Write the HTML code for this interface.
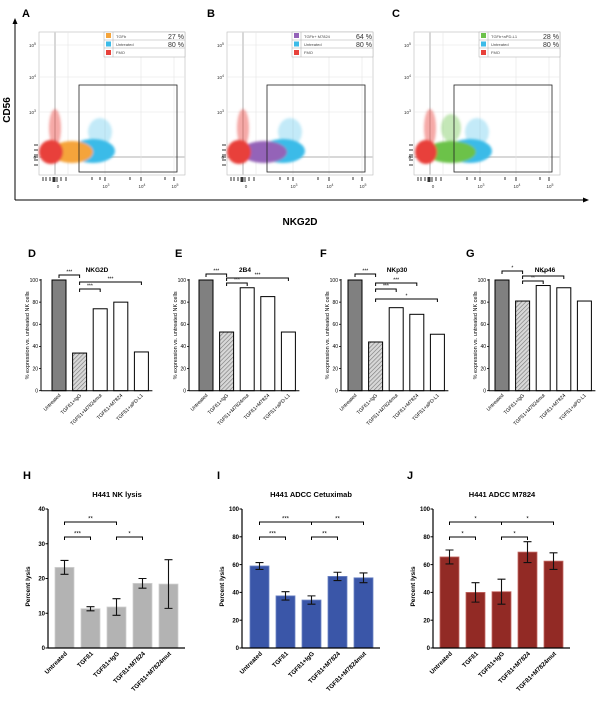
<!DOCTYPE html>
<html><head><meta charset="utf-8"><style>
html,body{margin:0;padding:0;background:#fff}
svg{display:block;font-family:"Liberation Sans",Arial,sans-serif}
</style></head><body>
<svg id="fig" width="600" height="709" viewBox="0 0 600 709" xmlns="http://www.w3.org/2000/svg">
<defs>
<filter id="blur" x="-50%" y="-50%" width="200%" height="200%"><feGaussianBlur stdDeviation="1.3"/></filter>
<pattern id="hatch" width="3" height="3" patternUnits="userSpaceOnUse" patternTransform="rotate(45)"><rect width="3" height="3" fill="#d8d8d8"/><line x1="0" y1="0" x2="0" y2="3" stroke="#777" stroke-width="1.2"/></pattern>
<g id="flowbase">
<rect x="39" y="32" width="146" height="143" fill="#fff" stroke="#bbb" stroke-width="0.6"/>
<line x1="39" y1="45" x2="185" y2="45" stroke="#e4e4e4" stroke-width="0.6"/>
<line x1="39" y1="77" x2="185" y2="77" stroke="#e4e4e4" stroke-width="0.6"/>
<line x1="39" y1="112" x2="185" y2="112" stroke="#e4e4e4" stroke-width="0.6"/>
<line x1="39" y1="157" x2="185" y2="157" stroke="#d8d8d8" stroke-width="2"/>
<line x1="55" y1="32" x2="55" y2="175" stroke="#d8d8d8" stroke-width="2"/>
<line x1="68" y1="32" x2="68" y2="175" stroke="#e4e4e4" stroke-width="0.6"/>
<line x1="105" y1="32" x2="105" y2="175" stroke="#e4e4e4" stroke-width="0.6"/>
<line x1="141" y1="32" x2="141" y2="175" stroke="#e4e4e4" stroke-width="0.6"/>
<line x1="174" y1="32" x2="174" y2="175" stroke="#e4e4e4" stroke-width="0.6"/>
<g font-size="4.5" fill="#333" text-anchor="end">
<text x="36" y="47">10<tspan dy="-2" font-size="3.5">5</tspan></text>
<text x="36" y="79">10<tspan dy="-2" font-size="3.5">4</tspan></text>
<text x="36" y="114">10<tspan dy="-2" font-size="3.5">3</tspan></text>
<text x="36" y="159">0</text>
</g>
<g font-size="4.5" fill="#333" text-anchor="middle">
<text x="58" y="188">0</text><text x="106" y="188">10<tspan dy="-2" font-size="3.5">3</tspan></text>
<text x="142" y="188">10<tspan dy="-2" font-size="3.5">4</tspan></text><text x="175" y="188">10<tspan dy="-2" font-size="3.5">5</tspan></text>
</g>
<g stroke="#000" stroke-width="0.8">
<line x1="43" y1="177" x2="43" y2="181"/><line x1="46" y1="177" x2="46" y2="181"/><line x1="50" y1="177" x2="50" y2="181"/><line x1="53" y1="177" x2="53" y2="182"/><line x1="54" y1="177" x2="54" y2="182"/><line x1="55" y1="177" x2="55" y2="182"/><line x1="57" y1="177" x2="57" y2="182"/><line x1="61" y1="177" x2="61" y2="181"/><line x1="66" y1="177" x2="66" y2="181"/><line x1="92" y1="177" x2="92" y2="180"/><line x1="100" y1="177" x2="100" y2="180"/><line x1="105" y1="177" x2="105" y2="181"/><line x1="130" y1="177" x2="130" y2="180"/><line x1="141" y1="177" x2="141" y2="181"/><line x1="165" y1="177" x2="165" y2="180"/><line x1="174" y1="177" x2="174" y2="181"/>
<line x1="34" y1="145" x2="38" y2="145"/><line x1="34" y1="150" x2="38" y2="150"/><line x1="34" y1="155" x2="38" y2="155"/><line x1="34" y1="157" x2="38" y2="157"/><line x1="34" y1="160" x2="38" y2="160"/><line x1="34" y1="165" x2="38" y2="165"/>
</g>
</g>
</defs>

<g>
<text x="22" y="17" font-size="11" font-weight="bold">A</text>
<text x="207" y="17" font-size="11" font-weight="bold">B</text>
<text x="392" y="17" font-size="11" font-weight="bold">C</text>
<line x1="15" y1="200" x2="15" y2="22" stroke="#000" stroke-width="1"/>
<polygon points="15,18 12.5,24 17.5,24" fill="#000"/>
<line x1="15" y1="200" x2="584" y2="200" stroke="#000" stroke-width="1"/>
<polygon points="589,200 583,197.5 583,202.5" fill="#000"/>
<text transform="translate(10,110) rotate(-90)" font-size="10" font-weight="bold" text-anchor="middle">CD56</text>
<text x="300" y="225" font-size="10" font-weight="bold" text-anchor="middle">NKG2D</text>

<g>
<use href="#flowbase"/>
<g filter="url(#blur)">
<ellipse cx="100" cy="132" rx="12" ry="14" fill="#3bbbe8" opacity="0.3"/>
<ellipse cx="93" cy="151" rx="22" ry="12" fill="#3bbbe8"/>
<ellipse cx="72" cy="152" rx="21" ry="11" fill="#f5a43a"/>
<ellipse cx="55" cy="128" rx="6" ry="19" fill="#e8413a" opacity="0.45"/>
<ellipse cx="51" cy="152" rx="12" ry="12" fill="#e8413a"/>
</g>
<rect x="79" y="85" width="98" height="87" fill="none" stroke="#222" stroke-width="0.8"/>
<g>
<rect x="104" y="32" width="81" height="25" fill="#fff" stroke="#aaa" stroke-width="0.5"/>
<line x1="104" y1="40" x2="185" y2="40" stroke="#aaa" stroke-width="0.5"/><line x1="104" y1="48" x2="185" y2="48" stroke="#aaa" stroke-width="0.5"/><line x1="113" y1="32" x2="113" y2="57" stroke="#aaa" stroke-width="0.5"/>
<rect x="106" y="33" width="5" height="5" fill="#f5a43a"/><rect x="106" y="41.5" width="5" height="5" fill="#3bbbe8"/><rect x="106" y="50" width="5" height="5" fill="#e8413a"/>
<text x="116" y="38" font-size="4" fill="#444">TGFb</text><text x="116" y="46" font-size="4" fill="#444">Untreated</text><text x="116" y="54" font-size="4" fill="#444">FMO</text>
<text x="184" y="39" font-size="7" text-anchor="end" fill="#333">27 %</text><text x="184" y="47" font-size="7" text-anchor="end" fill="#333">80 %</text>
</g>
</g>

<g transform="translate(188,0)">
<use href="#flowbase"/>
<g filter="url(#blur)">
<ellipse cx="102" cy="132" rx="12" ry="14" fill="#3bbbe8" opacity="0.3"/>
<ellipse cx="95" cy="151" rx="22" ry="12" fill="#3bbbe8"/>
<ellipse cx="76" cy="152" rx="23" ry="11" fill="#9463b8"/>
<ellipse cx="55" cy="128" rx="6" ry="19" fill="#e8413a" opacity="0.45"/>
<ellipse cx="51" cy="152" rx="12" ry="12" fill="#e8413a"/>
</g>
<rect x="79" y="85" width="98" height="87" fill="none" stroke="#222" stroke-width="0.8"/>
<g>
<rect x="104" y="32" width="81" height="25" fill="#fff" stroke="#aaa" stroke-width="0.5"/>
<line x1="104" y1="40" x2="185" y2="40" stroke="#aaa" stroke-width="0.5"/><line x1="104" y1="48" x2="185" y2="48" stroke="#aaa" stroke-width="0.5"/><line x1="113" y1="32" x2="113" y2="57" stroke="#aaa" stroke-width="0.5"/>
<rect x="106" y="33" width="5" height="5" fill="#9463b8"/><rect x="106" y="41.5" width="5" height="5" fill="#3bbbe8"/><rect x="106" y="50" width="5" height="5" fill="#e8413a"/>
<text x="116" y="38" font-size="4" fill="#444">TGFb+ M7824</text><text x="116" y="46" font-size="4" fill="#444">Untreated</text><text x="116" y="54" font-size="4" fill="#444">FMO</text>
<text x="184" y="39" font-size="7" text-anchor="end" fill="#333">64 %</text><text x="184" y="47" font-size="7" text-anchor="end" fill="#333">80 %</text>
</g>
</g>

<g transform="translate(375,0)">
<use href="#flowbase"/>
<g filter="url(#blur)">
<ellipse cx="102" cy="132" rx="12" ry="14" fill="#3bbbe8" opacity="0.3"/>
<ellipse cx="95" cy="151" rx="22" ry="12" fill="#3bbbe8"/>
<ellipse cx="76" cy="128" rx="10" ry="14" fill="#6cc24a" opacity="0.4"/>
<ellipse cx="76" cy="152" rx="25" ry="11" fill="#6cc24a"/>
<ellipse cx="55" cy="128" rx="6" ry="19" fill="#e8413a" opacity="0.45"/>
<ellipse cx="51" cy="152" rx="11" ry="12" fill="#e8413a"/>
</g>
<rect x="79" y="85" width="98" height="87" fill="none" stroke="#222" stroke-width="0.8"/>
<g>
<rect x="104" y="32" width="81" height="25" fill="#fff" stroke="#aaa" stroke-width="0.5"/>
<line x1="104" y1="40" x2="185" y2="40" stroke="#aaa" stroke-width="0.5"/><line x1="104" y1="48" x2="185" y2="48" stroke="#aaa" stroke-width="0.5"/><line x1="113" y1="32" x2="113" y2="57" stroke="#aaa" stroke-width="0.5"/>
<rect x="106" y="33" width="5" height="5" fill="#6cc24a"/><rect x="106" y="41.5" width="5" height="5" fill="#3bbbe8"/><rect x="106" y="50" width="5" height="5" fill="#e8413a"/>
<text x="116" y="38" font-size="4" fill="#444">TGFb+aPD-L1</text><text x="116" y="46" font-size="4" fill="#444">Untreated</text><text x="116" y="54" font-size="4" fill="#444">FMO</text>
<text x="184" y="39" font-size="7" text-anchor="end" fill="#333">28 %</text><text x="184" y="47" font-size="7" text-anchor="end" fill="#333">80 %</text>
</g>
</g>
</g>
<g id="charts"></g>
</svg>
<script>
// ---- Data ----
const midCategories = ["Untreated", "TGF\u00df1+IgG", "TGF\u00df1+M7824mut", "TGF\u00df1+M7824", "TGF\u00df1+aPD-L1"];
const nkg2dValues = [100, 34, 74, 80, 35];
const b24Values = [100, 53, 93, 85, 53];
const nkp30Values = [100, 44, 75, 69, 51];
const nkp46Values = [100, 81, 95, 93, 81];
const midTicks = [0, 20, 40, 60, 80, 100];

const lysisCategories = ["Untreated", "TGF\u00df1", "TGF\u00df1+IgG", "TGF\u00df1+M7824", "TGF\u00df1+M7824mut"];
const nkLysisValues = [23.2, 11.3, 11.8, 18.6, 18.4];
const nkLysisErrors = [2.0, 0.6, 2.4, 1.4, 7.0];
const cetuxValues = [59, 37.5, 34.5, 51.5, 50.5];
const cetuxErrors = [2.5, 3, 3, 3, 3.5];
const m7824Values = [65.5, 40, 40.5, 69, 62.5];
const m7824Errors = [5, 7, 9, 7.5, 6];
const nkTicks = [0, 10, 20, 30, 40];
const adccTicks = [0, 20, 40, 60, 80, 100];

const SVGNS = "http://www.w3.org/2000/svg";
const root = document.getElementById("charts");
function mk(parent, tag, attrs, text) {
  const el = document.createElementNS(SVGNS, tag);
  for (const k in attrs) el.setAttribute(k, attrs[k]);
  if (text !== undefined) el.textContent = text;
  parent.appendChild(el);
  return el;
}
function bracket(g, x1, x2, y, label, fs) {
  const p = mk(g, "path", {d: `M${x1},${y+3} V${y} H${x2} V${y+3}`, fill: "none", stroke: "#000", "stroke-width": 1});
  
  
  const t = mk(g, "text", {x: (x1+x2)/2, y: y-1.5, "font-size": fs, "text-anchor": "middle"}, label);
  
  
}

function midPanel(cfg, values) {
  const g = mk(root, "g", {});
  
  
  const y0 = 390.7, yTop = 280;
  const yS = v => y0 - (v / 100) * (y0 - yTop);
  const bw = 14, step = 20.6;
  const xS = i => cfg.bar0 + i * step;
  const lbl = mk(g, "text", {x: cfg.lx, y: 257, "font-size": 11, "font-weight": "bold"}, cfg.letter);
  
  
  const ti = mk(g, "text", {x: cfg.ax + 56, y: 272, "font-size": 6.5, "font-weight": "bold", "text-anchor": "middle"}, cfg.title);
  
  
  values.forEach((v, i) => {
    const fill = i === 0 ? "#808080" : (i === 1 ? "url(#hatch)" : "#fff");
    const r = mk(g, "rect", {x: xS(i), y: yS(v), width: bw, height: y0 - yS(v), fill: fill, stroke: "#000", "stroke-width": 1});
    
    
  });
  const axY = mk(g, "line", {x1: cfg.ax, y1: yTop - 1, x2: cfg.ax, y2: y0, stroke: "#000", "stroke-width": 1});
  
  
  const axX = mk(g, "line", {x1: cfg.ax, y1: y0, x2: xS(4) + bw + 4, y2: y0, stroke: "#000", "stroke-width": 1});
  
  
  midTicks.forEach(t => {
    mk(g, "line", {x1: cfg.ax - 2, y1: yS(t), x2: cfg.ax, y2: yS(t), stroke: "#000", "stroke-width": 0.8});
    const tl = mk(g, "text", {x: cfg.ax - 3, y: yS(t) + 1.8, "font-size": 5, "text-anchor": "end"}, t);
    
    
  });
  const yt = mk(g, "text", {transform: `translate(${cfg.ax - 12},${(y0 + yTop) / 2}) rotate(-90)`, "font-size": 5.5, "text-anchor": "middle"}, "% expression vs. untreated NK cells");
  
  
  midCategories.forEach((c, i) => {
    const cx = xS(i) + bw / 2 + 2, cy = y0 + 5;
    const t = mk(g, "text", {transform: `translate(${cx},${cy}) rotate(-45)`, "font-size": 5, "text-anchor": "end"}, c);
    
    
  });
  const c = i => xS(i) + bw / 2;
  cfg.brackets.forEach(b => bracket(g, c(b[0]), c(b[1]), b[2], b[3], 5));
}
midPanel({name: "nkg2d-chart", letter: "D", lx: 28, title: "NKG2D", ax: 41, bar0: 52,
  brackets: [[0,1,275,"***"],[1,4,282,"***"],[1,2,289,"***"]]}, nkg2dValues);
midPanel({name: "2b4-chart", letter: "E", lx: 175, title: "2B4", ax: 189, bar0: 199,
  brackets: [[0,1,274,"***"],[1,4,278,"***"],[1,2,283,"***"]]}, b24Values);
midPanel({name: "nkp30-chart", letter: "F", lx: 320, title: "NKp30", ax: 341, bar0: 348,
  brackets: [[0,1,274,"***"],[1,3,283,"***"],[1,2,289,"***"],[1,4,299,"*"]]}, nkp30Values);
midPanel({name: "nkp46-chart", letter: "G", lx: 466, title: "NKp46", ax: 489, bar0: 495,
  brackets: [[0,1,271,"*"],[1,3,276,"**"],[1,2,281,"**"]]}, nkp46Values);

function lysisPanel(cfg, values, errors, ticks) {
  const g = mk(root, "g", {});
  
  
  const y0 = 648, yTop = 509, vmax = ticks[ticks.length - 1];
  const yS = v => y0 - (v / vmax) * (y0 - yTop);
  const bw = 19, step = 26;
  const xS = i => cfg.bar0 + i * step;
  const lbl = mk(g, "text", {x: cfg.lx, y: 479, "font-size": 11, "font-weight": "bold"}, cfg.letter);
  
  
  const ti = mk(g, "text", {x: cfg.ax + 69, y: 497, "font-size": 7.5, "font-weight": "bold", "text-anchor": "middle"}, cfg.title);
  
  
  values.forEach((v, i) => {
    const r = mk(g, "rect", {x: xS(i), y: yS(v), width: bw, height: y0 - yS(v), fill: cfg.color, stroke: cfg.edge, "stroke-width": 0.8});
    
    
    const cx = xS(i) + bw / 2, hi = yS(v + errors[i]), lo = yS(v - errors[i]);
    const e = mk(g, "path", {d: `M${cx},${hi} V${lo} M${cx-4},${hi} H${cx+4} M${cx-4},${lo} H${cx+4}`, stroke: "#111", "stroke-width": 1.1, fill: "none"});
    
    
  });
  const axY = mk(g, "line", {x1: cfg.ax, y1: yTop, x2: cfg.ax, y2: y0, stroke: "#000", "stroke-width": 1.2});
  
  
  const axX = mk(g, "line", {x1: cfg.ax, y1: y0, x2: xS(4) + bw + 7, y2: y0, stroke: "#000", "stroke-width": 1.2});
  
  
  ticks.forEach(t => {
    mk(g, "line", {x1: cfg.ax - 2.5, y1: yS(t), x2: cfg.ax, y2: yS(t), stroke: "#000", "stroke-width": 1});
    const tl = mk(g, "text", {x: cfg.ax - 3, y: yS(t) + 2.2, "font-size": 6, "font-weight": "bold", "text-anchor": "end"}, t);
    
    
  });
  const yt = mk(g, "text", {transform: `translate(${cfg.ax - 18},${(y0 + yTop) / 2 + 8}) rotate(-90)`, "font-size": 6.5, "font-weight": "bold", "text-anchor": "middle"}, "Percent lysis");
  
  
  lysisCategories.forEach((c, i) => {
    const cx = xS(i) + bw / 2 + 3, cy = y0 + 6;
    const t = mk(g, "text", {transform: `translate(${cx},${cy}) rotate(-45)`, "font-size": 6.2, "font-weight": "bold", "text-anchor": "end"}, c);
    
    
  });
  const c = i => xS(i) + bw / 2;
  cfg.brackets.forEach(b => bracket(g, c(b[0]), c(b[1]), b[2], b[3], 6));
}
lysisPanel({name: "nk-lysis-chart", letter: "H", lx: 23, title: "H441 NK lysis", ax: 48, bar0: 55, color: "#b3b3b3", edge: "#d0d0d0",
  brackets: [[0,2,522,"**"],[0,1,537,"***"],[2,3,537,"*"]]}, nkLysisValues, nkLysisErrors, nkTicks);
lysisPanel({name: "adcc-cetuximab-chart", letter: "I", lx: 217, title: "H441 ADCC Cetuximab", ax: 242, bar0: 250, color: "#3a56a8", edge: "#6d84c4",
  brackets: [[0,2,522,"***"],[2,4,522,"**"],[0,1,537,"***"],[2,3,537,"**"]]}, cetuxValues, cetuxErrors, adccTicks);
lysisPanel({name: "adcc-m7824-chart", letter: "J", lx: 407, title: "H441 ADCC M7824", ax: 433, bar0: 440, color: "#922a25", edge: "#c46a64",
  brackets: [[0,2,522,"*"],[2,4,522,"*"],[0,1,537,"*"],[2,3,537,"*"]]}, m7824Values, m7824Errors, adccTicks);
</script>
</body></html>
